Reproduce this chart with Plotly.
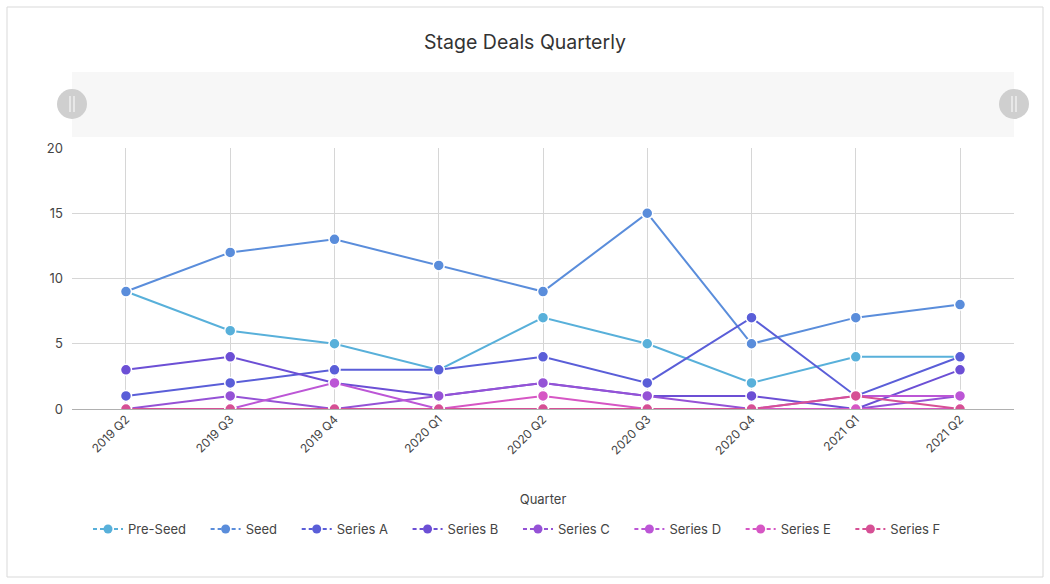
import plotly.graph_objects as go

# === DATA ===
quarters = ["2019 Q2", "2019 Q3", "2019 Q4", "2020 Q1", "2020 Q2",
            "2020 Q3", "2020 Q4", "2021 Q1", "2021 Q2"]

pre_seed = [9, 6, 5, 3, 7, 5, 2, 4, 4]
seed = [9, 12, 13, 11, 9, 15, 5, 7, 8]
series_a = [1, 2, 3, 3, 4, 2, 7, 1, 4]
series_b = [3, 4, 2, 1, 2, 1, 1, 0, 3]
series_c = [0, 1, 0, 1, 2, 1, 0, 0, 1]
series_d = [0, 0, 2, 0, 0, 0, 0, 1, 1]
series_e = [0, 0, 0, 0, 1, 0, 0, 0, 0]
series_f = [0, 0, 0, 0, 0, 0, 0, 1, 0]

stage_names = ["Pre-Seed", "Seed", "Series A", "Series B",
               "Series C", "Series D", "Series E", "Series F"]
stage_values = [pre_seed, seed, series_a, series_b,
                series_c, series_d, series_e, series_f]
stage_colors = ["#58b0da", "#5a8ddb", "#5a5ed8", "#6c4fd5",
                "#9552d6", "#bc56d6", "#d656c4", "#d65095"]

# plot area in pixels (used to place decorations in paper coords)
W, H = 1050, 584
L, R, T, B = 72, 36, 148, 175
pw, ph = W - L - R, H - T - B


def px(x):
    return (x - L) / pw


def py(y):
    return 1 - (y - T) / ph


fig = go.Figure()

for name, vals, col in zip(stage_names, stage_values, stage_colors):
    fig.add_trace(go.Scatter(
        x=quarters, y=vals, name=name, mode="lines+markers",
        line=dict(color=col, width=2),
        marker=dict(size=11, color=col, line=dict(color="white", width=1.5)),
        showlegend=False,
    ))
    # legend entry with dashed symbol (padding gives the wider item spacing)
    fig.add_trace(go.Scatter(
        x=[None], y=[None], name=name + "\u00a0" * 4, mode="lines+markers",
        line=dict(color=col, width=2, dash="4px,3px"),
        marker=dict(size=9, color=col),
    ))

shapes = [
    # outer border
    dict(type="rect", xref="paper", yref="paper",
         x0=px(7), x1=px(1043), y0=py(577), y1=py(7),
         line=dict(color="#d9d9d9", width=1), layer="below"),
    # zoom slider background
    dict(type="rect", xref="paper", yref="paper",
         x0=px(72), x1=px(1014), y0=py(137), y1=py(72),
         fillcolor="#f7f7f7", line=dict(width=0), layer="below"),
]
for cx in (72, 1014):
    shapes.append(dict(type="circle", xref="paper", yref="paper",
                       x0=px(cx - 15), x1=px(cx + 15), y0=py(119), y1=py(89),
                       fillcolor="#cfcfcf", line=dict(width=0)))
    for dx in (-2, 2):
        shapes.append(dict(type="line", xref="paper", yref="paper",
                           x0=px(cx + dx), x1=px(cx + dx), y0=py(112), y1=py(96),
                           line=dict(color="white", width=1)))

fig.update_layout(
    width=W, height=H,
    margin=dict(l=L, r=R, t=T, b=B),
    paper_bgcolor="white", plot_bgcolor="white",
    font=dict(family="Inter, Roboto, sans-serif", size=12, color="#444"),
    title=dict(text="Stage Deals Quarterly", x=0.5, xanchor="center",
               y=1 - 42 / H, yanchor="middle",
               font=dict(size=19.5, color="#333")),
    xaxis=dict(
        title=dict(text="Quarter", font=dict(size=13, color="#444"), standoff=38),
        showgrid=True, gridcolor="#d6d6d6", gridwidth=1,
        tickangle=-45, ticks="", showline=False, zeroline=False,
        tickfont=dict(size=12, color="#444"),
    ),
    yaxis=dict(
        range=[0, 20], dtick=5, showgrid=True, gridcolor="#d6d6d6",
        zeroline=True, zerolinecolor="#b0b0b0", zerolinewidth=1,
        ticks="", tickfont=dict(size=13, color="#444"), ticklabelstandoff=8,
    ),
    legend=dict(orientation="h", x=px(88), xanchor="left", y=py(529),
                yanchor="middle", font=dict(size=13, color="#444"),
                itemwidth=30, bgcolor="rgba(0,0,0,0)"),
    shapes=shapes,
)

fig.write_html("out.html", config={"displayModeBar": False},
               post_script="document.body.style.margin='0';")
